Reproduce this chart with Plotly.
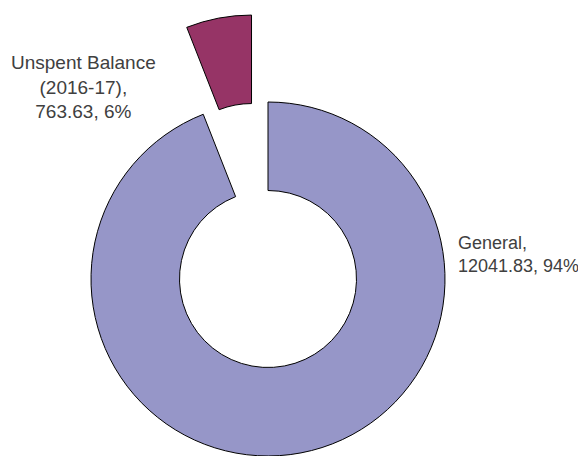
import math
import plotly.graph_objects as go

# ---- data ----
categories = ["General", "Unspent Balance (2016-17)"]
values = [12041.83, 763.63]
label_texts = ["General,<br>12041.83, 94%", "Unspent Balance<br>(2016-17),<br>763.63, 6%"]

# ---- style ----
colors = ["#9696C8", "#963466"]
OFF = 8            # page body margin offset
W, H = 586 - OFF, 456 - OFF
R = 177            # outer radius in px
cx, cy = 268 - OFF, 279 - OFF  # centre of main donut (figure px from left / top)
pull = 0.5         # pull of the exploded slice (fraction of radius)

total = sum(values)
frac = values[1] / total
mid = math.radians(360 * (1 - frac / 2))  # clockwise from 12 o'clock
cx2 = cx + pull * R * math.sin(mid)
cy2 = cy - pull * R * math.cos(mid)


def dom(cxp, cyp):
    return dict(x=[max(0, (cxp - R) / W), min(1, (cxp + R) / W)],
                y=[max(0, (H - cyp - R) / H), min(1, (H - cyp + R) / H)])


clear = "rgba(0,0,0,0)"
common = dict(labels=categories, values=values, hole=0.5, sort=False,
              direction="clockwise", rotation=0, textinfo="none",
              showlegend=False, hoverinfo="label+value+percent")

fig = go.Figure()
fig.add_trace(go.Pie(**common, domain=dom(cx, cy),
                     marker=dict(colors=[colors[0], clear],
                                 line=dict(color=["#000000", clear], width=[1, 0]))))
fig.add_trace(go.Pie(**common, domain=dom(cx2, cy2),
                     marker=dict(colors=[clear, colors[1]],
                                 line=dict(color=[clear, "#000000"], width=[0, 1]))))

font = dict(family="Liberation Sans, Arial, sans-serif", size=19, color="#404040")
font_r = dict(font, size=18)
fig.add_annotation(x=(456 - OFF) / W, y=1 - (254 - OFF) / H, xref="paper", yref="paper",
                   text=label_texts[0], showarrow=False, xanchor="left",
                   yanchor="middle", align="left", font=font_r)
fig.add_annotation(x=(83 - OFF) / W, y=1 - (87 - OFF) / H, xref="paper", yref="paper",
                   text=label_texts[1], showarrow=False, xanchor="center",
                   yanchor="middle", align="center", font=font)

fig.update_layout(width=W, height=H, margin=dict(l=0, r=0, t=0, b=0),
                  paper_bgcolor="white", plot_bgcolor="white")
fig.write_html("out.html")
